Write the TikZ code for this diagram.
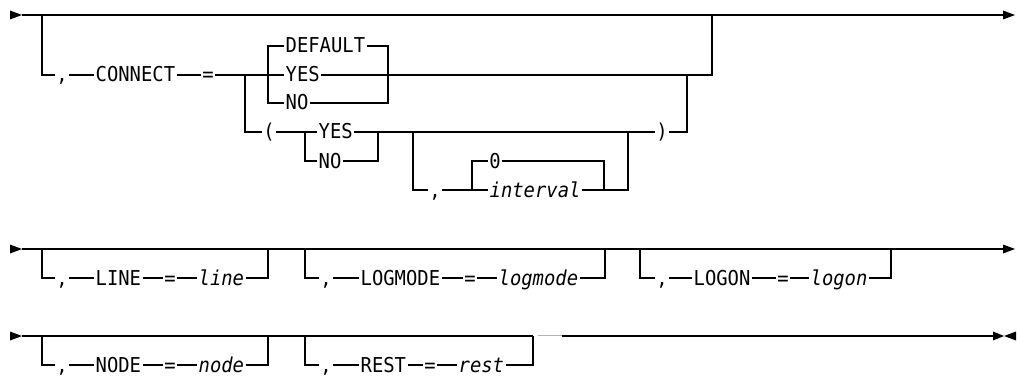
\documentclass[tikz,border=0pt]{standalone}
\usepackage{fontspec}
\setmonofont[FakeStretch=0.92]{DejaVu Sans Mono}
\tikzset{
  word/.style={inner xsep=1pt, inner ysep=0pt, text height=14pt, text depth=0pt,
    font=\ttfamily\fontsize{20.5}{24}\selectfont},
  kw/.style={word, anchor=west},
  var/.style={word, anchor=west, font=\ttfamily\itshape\fontsize{20.5}{24}\selectfont},
  sym/.style={word},
}
\begin{document}
\begin{tikzpicture}[x=1pt, y=1pt, yscale=-1, line width=1.3pt]
    \useasboundingbox (0,0) rectangle (1017,377);
    % first line: main path
    \fill (22,15) -- (10,10.5) -- (10,19.5) -- cycle;
    \draw (22,15) -- (1003,15);
    \fill (1015,15) -- (1003,10.5) -- (1003,19.5) -- cycle;
    % CONNECT keyword
    \node [sym] (c1) at (62,75) {,};
    \node [kw] (kwconn) at (94,75) {CONNECT};
    \node [sym] (eq1) at (208,75) {=};
    \node [kw] (dflt) at (284,46) {DEFAULT};
    \node [kw] (yes1) at (284,75) {YES};
    \node [kw] (no1) at (284,103) {NO};
    \draw (42,15) |- (c1) -- (kwconn) -- (eq1) -- (yes1) -| (712,15);
    \draw (dflt) -| (268,103) -- (no1);
    \draw (dflt) -| (388,103) -- (no1);
    % parenthesised form
    \node [sym] (lpar) at (269,132) {(};
    \node [kw] (yes2) at (317,132) {YES};
    \node [kw] (no2) at (317,161) {NO};
    \node [sym] (rpar) at (662,132) {)};
    \draw (245,75) |- (lpar) -- (yes2) -- (rpar) -| (687,75);
    \draw (305,132) |- (no2) -| (378,132);
    % optional interval
    \node [sym] (c2) at (435,190) {,};
    \node [sym] (zero) at (495,161) {0};
    \node [var] (intv) at (488,190) {interval};
    \draw (413,132) |- (c2) -- (intv) -| (628,132);
    \draw (472,190) |- (zero) -| (604,190);
    % second line: main path
    \fill (22,249) -- (10,244.5) -- (10,253.5) -- cycle;
    \draw (22,249) -- (1003,249);
    \fill (1015,249) -- (1003,244.5) -- (1003,253.5) -- cycle;
    % LINE
    \node [sym] (c3) at (62,278) {,};
    \node [kw] (kwline) at (94,278) {LINE};
    \node [sym] (eq2) at (170,278) {=};
    \node [var] (vline) at (197,278) {line};
    \draw (42,249) |- (c3) -- (kwline) -- (eq2) -- (vline) -| (268,249);
    % LOGMODE
    \node [sym] (c4) at (326,278) {,};
    \node [kw] (kwlogmode) at (359,278) {LOGMODE};
    \node [sym] (eq3) at (470,278) {=};
    \node [var] (vlogmode) at (497,278) {logmode};
    \draw (305,249) |- (c4) -- (kwlogmode) -- (eq3) -- (vlogmode) -| (605,249);
    % LOGON
    \node [sym] (c5) at (662,278) {,};
    \node [kw] (kwlogon) at (692,278) {LOGON};
    \node [sym] (eq4) at (783,278) {=};
    \node [var] (vlogon) at (809,278) {logon};
    \draw (640,249) |- (c5) -- (kwlogon) -- (eq4) -- (vlogon) -| (891,249);
    % third line: main path
    \fill (22,336) -- (10,331.5) -- (10,340.5) -- cycle;
    \draw (22,336) -- (533,336);
    \draw [gray!60] (538,335.5) -- (562,335.5);
    \draw (562,336) -- (993,336);
    \fill (1004,336) -- (993,331.5) -- (993,340.5) -- cycle;
    \fill (1004,336) -- (1016,331.5) -- (1016,340.5) -- cycle;
    % NODE
    \node [sym] (c6) at (62,365) {,};
    \node [kw] (kwnode) at (94,365) {NODE};
    \node [sym] (eq5) at (170,365) {=};
    \node [var] (vnode) at (197,365) {node};
    \draw (42,336) |- (c6) -- (kwnode) -- (eq5) -- (vnode) -| (268,336);
    % REST
    \node [sym] (c7) at (326,365) {,};
    \node [kw] (kwrest) at (359,365) {REST};
    \node [sym] (eq6) at (430,365) {=};
    \node [var] (vrest) at (457,365) {rest};
    \draw (305,336) |- (c7) -- (kwrest) -- (eq6) -- (vrest) -| (533,336);
\end{tikzpicture}
\end{document}
